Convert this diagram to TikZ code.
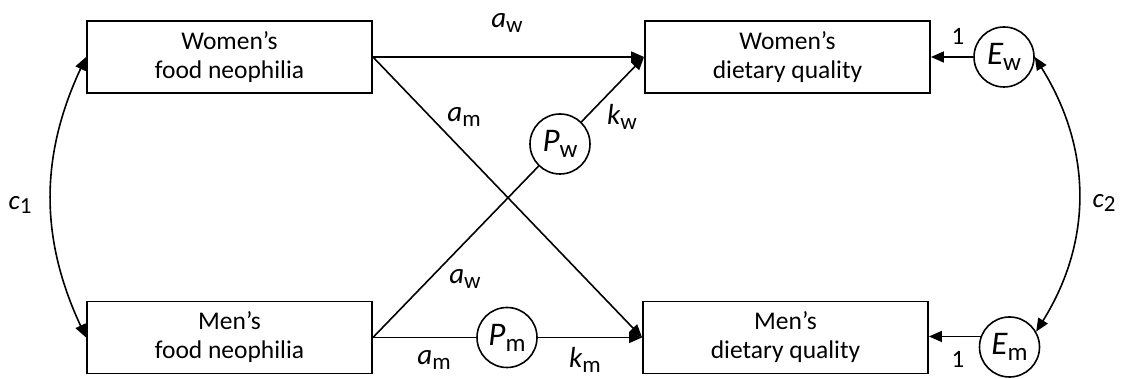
\documentclass[tikz,border=0pt]{standalone}
\usepackage{fontspec}
\setmainfont{Carlito}
\usetikzlibrary{arrows.meta}
\newcommand{\vlab}[2]{{\fontsize{29}{30}\selectfont\itshape #1}\raisebox{-5pt}{\fontsize{23}{24}\selectfont #2}}
\newcommand{\blab}[2]{{\fontsize{33}{34}\selectfont\itshape #1}\raisebox{-6pt}{\fontsize{25}{26}\selectfont #2}}
\newcommand{\clab}[2]{{\fontsize{27}{28}\selectfont\itshape #1}\raisebox{-4pt}{\fontsize{23}{24}\selectfont #2}}
\begin{document}
\begin{tikzpicture}[x=1pt,y=1pt,
  box/.style={draw,line width=1.9pt,minimum width=285pt,minimum height=72pt,inner sep=0pt,align=center,font=\fontsize{25.5}{29}\selectfont},
  lat/.style={draw,circle,line width=1.6pt,minimum size=60pt,inner sep=0pt},
  conn/.style={line width=1.6pt},
  arr/.style={conn,-{Triangle[length=13pt,width=11pt]}},
  darr/.style={conn,{Triangle[length=13pt,width=11pt]}-{Triangle[length=13pt,width=11pt]}},
  lbl/.style={inner sep=0pt},
  one/.style={inner sep=0pt,font=\fontsize{25}{26}\selectfont}]
\useasboundingbox (0,0) rectangle (1121,379);
% boxes
\node[box] (WF) at (229.5,322) {Women’s\\food neophilia};
\node[box] (MF) at (229.5,41.5) {Men’s\\food neophilia};
\node[box] (WD) at (787.5,322) {Women’s\\dietary quality};
\node[box] (MD) at (785.5,41.5) {Men’s\\dietary quality};
% latent circles
\node[lat] (Pw) at (560,235) {\blab{P}{w}};
\node[lat] (Pm) at (507,41.5) {\blab{P}{m}};
\node[lat] (Ew) at (1004,322) {\blab{E}{w}};
\node[lat] (Em) at (1009.5,32) {\blab{E}{m}};
% paths
\draw[arr] (WF.east) -- (WD.west);
\draw[arr] (WF.east) -- (MD.west);
\draw[conn] (MF.east) -- (Pw);
\draw[arr] (Pw) -- (WD.west);
\draw[conn] (MF.east) -- (Pm);
\draw[arr] (Pm) -- (MD.west);
\draw[arr] (Ew) -- (WD.east);
\draw[arr] (Em.160.5) -- (Em.160.5 -| MD.east);
% covariances
\draw[darr] (WF.west) to[out=-115,in=115] (MF.west);
\draw[darr] (Ew.east) to[out=-58,in=58] (Em.30);
% labels
\node[lbl] (law1) at (507,356) {\vlab{a}{w}};
\node[lbl] (lam1) at (464,262) {\vlab{a}{m}};
\node[lbl] (lkw) at (622,262) {\vlab{k}{w}};
\node[lbl] (law2) at (465,100) {\vlab{a}{w}};
\node[lbl] (lam2) at (434,19) {\vlab{a}{m}};
\node[lbl] (lkm) at (585,19) {\vlab{k}{m}};
\node[one] (l1a) at (958,343) {1};
\node[one] (l1b) at (958,20) {1};
\node[lbl] (lc1) at (20,174) {\clab{c}{1}};
\node[lbl] (lc2) at (1104,176) {\clab{c}{2}};
\end{tikzpicture}
\end{document}
